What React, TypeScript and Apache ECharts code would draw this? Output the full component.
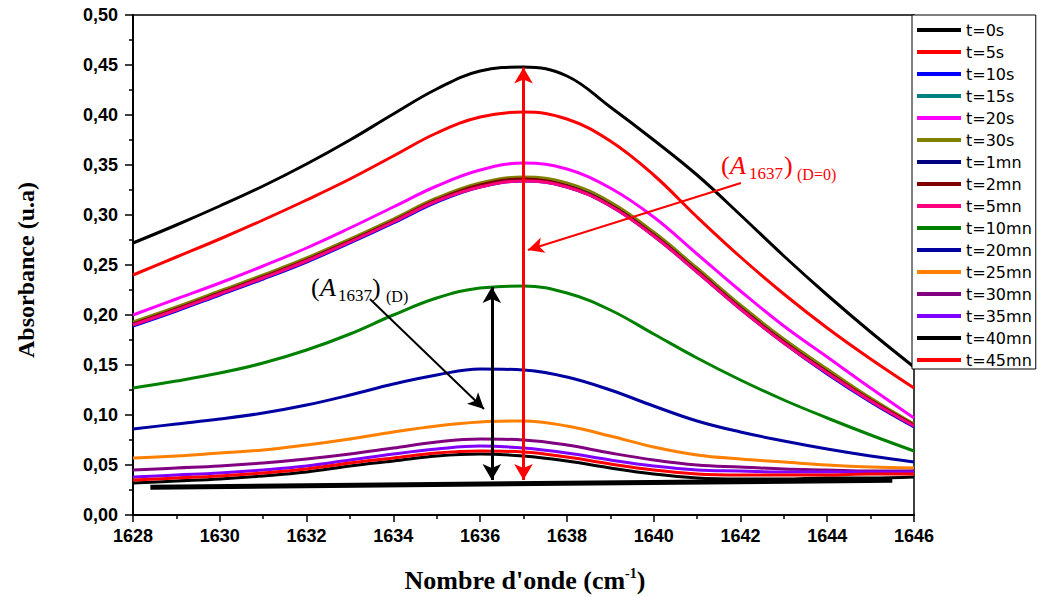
import { useEffect, useRef } from "react";
import * as echarts from "echarts";

// Wavenumber grid (cm-1) on which every spectrum is sampled
const wavenumbers = [1628, 1629, 1630, 1631, 1632, 1633, 1634, 1635, 1636, 1637, 1638, 1639, 1640, 1641, 1642, 1643, 1644, 1645, 1646];

const legendNames = ["t=0s", "t=5s", "t=10s", "t=15s", "t=20s", "t=30s", "t=1mn", "t=2mn", "t=5mn", "t=10mn", "t=20mn", "t=25mn", "t=30mn", "t=35mn", "t=40mn", "t=45mn"];
const lineColors = ["#000000", "#ff0000", "#0000ff", "#008080", "#ff00ff", "#808000", "#000080", "#800000", "#ff0080", "#008000", "#0000a0", "#ff8000", "#800080", "#8000ff", "#000000", "#ff0000"];

// Absorbance (u.a) of the 1637 cm-1 band at each irradiation time
const abs0s = [0.272, 0.290, 0.309, 0.329, 0.351, 0.375, 0.401, 0.426, 0.444, 0.448, 0.439, 0.408, 0.375, 0.340, 0.300, 0.259, 0.220, 0.183, 0.148];
const abs5s = [0.240, 0.258, 0.276, 0.295, 0.315, 0.336, 0.359, 0.382, 0.398, 0.403, 0.396, 0.374, 0.340, 0.298, 0.258, 0.221, 0.187, 0.156, 0.127];
const abs10s = [0.189, 0.204, 0.220, 0.236, 0.253, 0.272, 0.292, 0.313, 0.328, 0.334, 0.328, 0.309, 0.279, 0.243, 0.206, 0.172, 0.141, 0.113, 0.088];
const abs15s = [0.191, 0.206, 0.222, 0.238, 0.255, 0.274, 0.294, 0.315, 0.330, 0.336, 0.330, 0.311, 0.281, 0.245, 0.208, 0.174, 0.144, 0.115, 0.090];
const abs20s = [0.200, 0.216, 0.232, 0.249, 0.267, 0.287, 0.308, 0.329, 0.345, 0.352, 0.346, 0.327, 0.298, 0.261, 0.224, 0.189, 0.158, 0.127, 0.097];
const abs30s = [0.193, 0.208, 0.224, 0.240, 0.257, 0.276, 0.296, 0.317, 0.332, 0.338, 0.332, 0.313, 0.283, 0.247, 0.210, 0.176, 0.146, 0.117, 0.091];
const abs1mn = [0.190, 0.205, 0.221, 0.237, 0.254, 0.273, 0.293, 0.314, 0.329, 0.335, 0.329, 0.310, 0.280, 0.244, 0.207, 0.173, 0.143, 0.114, 0.089];
const abs2mn = [0.191, 0.206, 0.222, 0.238, 0.255, 0.274, 0.294, 0.315, 0.330, 0.336, 0.329, 0.310, 0.280, 0.244, 0.207, 0.173, 0.143, 0.115, 0.090];
const abs5mn = [0.190, 0.205, 0.221, 0.237, 0.254, 0.273, 0.293, 0.314, 0.328, 0.334, 0.328, 0.309, 0.279, 0.243, 0.206, 0.172, 0.142, 0.114, 0.089];
const abs10mn = [0.127, 0.134, 0.142, 0.152, 0.165, 0.181, 0.200, 0.217, 0.227, 0.229, 0.222, 0.205, 0.181, 0.157, 0.135, 0.115, 0.097, 0.080, 0.064];
const abs20mn = [0.086, 0.091, 0.096, 0.102, 0.110, 0.120, 0.131, 0.140, 0.146, 0.145, 0.138, 0.125, 0.109, 0.094, 0.083, 0.074, 0.066, 0.059, 0.053];
const abs25mn = [0.057, 0.059, 0.062, 0.065, 0.070, 0.076, 0.083, 0.089, 0.093, 0.094, 0.089, 0.079, 0.068, 0.060, 0.056, 0.053, 0.050, 0.048, 0.047];
const abs30mn = [0.045, 0.047, 0.049, 0.052, 0.056, 0.061, 0.067, 0.073, 0.076, 0.075, 0.070, 0.062, 0.055, 0.050, 0.048, 0.046, 0.045, 0.044, 0.044];
const abs35mn = [0.038, 0.040, 0.042, 0.045, 0.049, 0.055, 0.061, 0.066, 0.069, 0.067, 0.062, 0.055, 0.049, 0.045, 0.044, 0.043, 0.043, 0.043, 0.043];
const abs40mn = [0.032, 0.034, 0.036, 0.039, 0.043, 0.049, 0.054, 0.059, 0.061, 0.059, 0.054, 0.047, 0.041, 0.037, 0.036, 0.036, 0.037, 0.037, 0.038];
const abs45mn = [0.035, 0.037, 0.039, 0.042, 0.046, 0.052, 0.057, 0.062, 0.064, 0.063, 0.058, 0.051, 0.045, 0.041, 0.040, 0.040, 0.040, 0.041, 0.041];

const spectra = [abs0s, abs5s, abs10s, abs15s, abs20s, abs30s, abs1mn, abs2mn, abs5mn, abs10mn, abs20mn, abs25mn, abs30mn, abs35mn, abs40mn, abs45mn];

// Baseline drawn under the band: [wavenumber, absorbance] at both ends
const baselineEnds = [[1628.4, 0.0278], [1645.5, 0.0348]];

// Arrow annotations in data space
const peakArrow = { x: 1637, top: 0.4475, foot: 0.035 };       // (A1637)(D=0)
const decayArrow = { x: 1636.27, top: 0.228, foot: 0.035 };    // (A1637)(D)
const pointerD = [[1633.46, 0.216], [1636.09, 0.106]];
const pointerD0 = [[1642.01, 0.332], [1637.1, 0.265]];

const yTickLabel = (v: number) => v.toFixed(2).replace(".", ",");
const xTickLabel = (v: number) => String(Math.round(v));

const serif = '"Liberation Serif", "Times New Roman", serif';
const sans = '"Liberation Sans", Arial, sans-serif';

function piece(text: string, x: number, y: number, size: number, color: string, italic = false) {
  return {
    type: "text",
    x,
    y,
    z: 30,
    silent: true,
    style: {
      text,
      font: `${italic ? "italic " : ""}${size}px ${serif}`,
      fill: color,
      textAlign: "left",
      textVerticalAlign: "middle",
    },
  };
}

function buildOption() {
  const curveSeries = legendNames.map((name, i) => ({
    name,
    type: "line",
    data: wavenumbers.map((w, j) => [w, spectra[i][j]]),
    smooth: 0.4,
    showSymbol: false,
    symbol: "none",
    color: lineColors[i],
    itemStyle: { color: lineColors[i] },
    lineStyle: { color: lineColors[i], width: 3 },
    silent: true,
    z: 2,
  }));

  const arrowEnd = (coord: number[], arrow: boolean, size: number[], color: string, width: number) => ({
    coord,
    symbol: arrow ? "arrow" : "none",
    symbolSize: size,
    lineStyle: { color, width, type: "solid" },
  });

  const baselineSeries = {
    name: "baseline",
    type: "line",
    data: baselineEnds,
    showSymbol: false,
    symbol: "none",
    color: "#000",
    lineStyle: { color: "#000", width: 5 },
    silent: true,
    z: 3,
    markLine: {
      silent: true,
      animation: false,
      label: { show: false },
      emphasis: { disabled: true },
      data: [
        [
          arrowEnd([peakArrow.x, peakArrow.top], true, [14, 16], "#ff0000", 3),
          arrowEnd([peakArrow.x, peakArrow.foot], true, [14, 16], "#ff0000", 3),
        ],
        [
          arrowEnd([decayArrow.x, decayArrow.top], true, [14, 16], "#000", 3),
          arrowEnd([decayArrow.x, decayArrow.foot], true, [14, 16], "#000", 3),
        ],
        [
          arrowEnd(pointerD[0], false, [12, 16], "#000", 2),
          arrowEnd(pointerD[1], true, [12, 16], "#000", 2),
        ],
        [
          arrowEnd(pointerD0[0], false, [12, 16], "#ff0000", 2),
          arrowEnd(pointerD0[1], true, [12, 16], "#ff0000", 2),
        ],
      ],
    },
  };

  return {
    animation: false,
    backgroundColor: "#ffffff",
    grid: {
      left: 133,
      right: 124,
      top: 15,
      bottom: 82,
      show: true,
      borderColor: "#000",
      borderWidth: 1.5,
      containLabel: false,
      outerBoundsMode: "none",
    },
    xAxis: {
      type: "value",
      min: 1628,
      max: 1646,
      interval: 2,
      axisLine: { show: true, onZero: false, lineStyle: { color: "#000", width: 2 } },
      axisTick: { show: true, length: 7, lineStyle: { color: "#000", width: 1.5 } },
      minorTick: { show: true, splitNumber: 2, length: 4, lineStyle: { color: "#000", width: 1.5 } },
      splitLine: { show: false },
      axisLabel: { color: "#000", fontFamily: sans, fontWeight: "bold", fontSize: 18, margin: 12, formatter: xTickLabel },
    },
    yAxis: {
      type: "value",
      min: 0,
      max: 0.5,
      interval: 0.05,
      axisLine: { show: true, onZero: false, lineStyle: { color: "#000", width: 2 } },
      axisTick: { show: true, length: 8, lineStyle: { color: "#000", width: 1.5 } },
      minorTick: { show: true, splitNumber: 2, length: 4, lineStyle: { color: "#000", width: 1.5 } },
      splitLine: { show: false },
      axisLabel: { color: "#000", fontFamily: sans, fontWeight: "bold", fontSize: 18, margin: 15, formatter: yTickLabel },
    },
    legend: {
      data: legendNames,
      orient: "vertical",
      left: 912,
      top: 15,
      padding: [6, 4, 0, 5],
      itemGap: 4,
      itemWidth: 44,
      itemHeight: 4,
      icon: "rect",
      backgroundColor: "#ffffff",
      borderColor: "#000",
      borderWidth: 1,
      borderRadius: 0,
      selectedMode: false,
      z: 20,
      textStyle: { fontFamily: '"DejaVu Sans", sans-serif', fontSize: 16, color: "#000", lineHeight: 18 },
    },
    series: [...curveSeries, baselineSeries],
    graphic: [
      {
        type: "text",
        x: 26,
        y: 270,
        rotation: Math.PI / 2,
        silent: true,
        style: {
          text: "Absorbance (u.a)",
          font: `bold 24px ${serif}`,
          fill: "#000",
          textAlign: "center",
          textVerticalAlign: "middle",
        },
      },
      {
        type: "text",
        x: 525,
        y: 580,
        silent: true,
        style: {
          text: "{b|Nombre d'onde (cm}{s|-1}{b|)}",
          fill: "#000",
          textAlign: "center",
          textVerticalAlign: "middle",
          rich: {
            b: { fontFamily: serif, fontWeight: "bold", fontSize: 26, fill: "#000", lineHeight: 28 },
            s: { fontFamily: serif, fontWeight: "bold", fontSize: 14, fill: "#000", verticalAlign: "top", lineHeight: 14 },
          },
        },
      },
      // (A1637)(D)
      piece("(", 311, 287, 26, "#000"),
      piece("A", 320, 287, 26, "#000", true),
      piece("1637", 338, 295, 17, "#000"),
      piece(")", 372, 287, 26, "#000"),
      piece("(D)", 386, 296, 16, "#000"),
      // (A1637)(D=0)
      piece("(", 721, 165, 26, "#ff0000"),
      piece("A", 730, 165, 26, "#ff0000", true),
      piece("1637", 749, 173, 17, "#ff0000"),
      piece(")", 784, 165, 26, "#ff0000"),
      piece("(D=0)", 797, 174, 16, "#ff0000"),
    ],
  };
}

export default function App() {
  const ref = useRef<HTMLDivElement>(null);
  useEffect(() => {
    document.body.style.margin = "0";
    const chart = echarts.init(ref.current!, null, { renderer: "svg" });
    chart.setOption(buildOption() as any);
    return () => chart.dispose();
  }, []);
  return <div ref={ref} style={{ width: 1038, height: 597 }} />;
}
